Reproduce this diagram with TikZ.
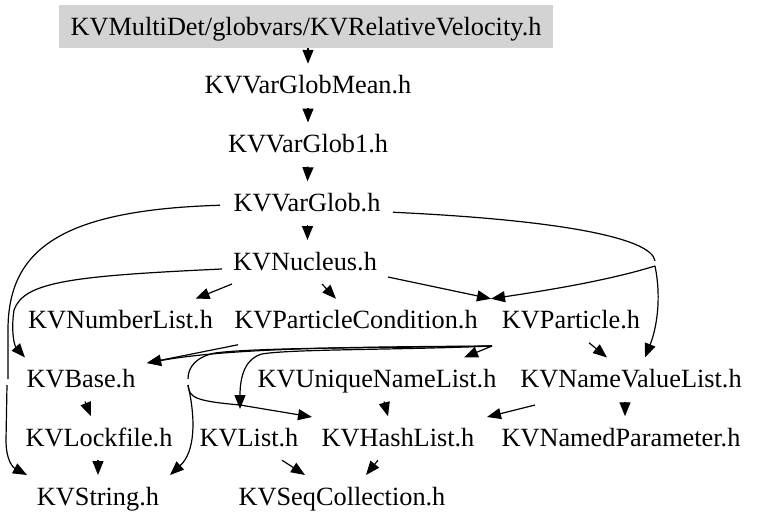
\documentclass[tikz,border=0pt]{standalone}
\usepackage{fontspec}
\setmainfont{Liberation Serif}
\usetikzlibrary{arrows.meta}
\definecolor{rootgray}{HTML}{D3D3D3}
\newcommand\fsz{\fontsize{26.3}{30}\selectfont}
\tikzset{
  hdr/.style={font=\fsz, inner sep=0pt, anchor=base, text height=30pt, text depth=14pt},
  rootbox/.style={hdr, fill=rootgray, inner xsep=12pt, text depth=13pt},
  ln/.style={line width=1.2pt},
  arr/.style={ln, -{Triangle[length=14pt,width=11pt]}}
}
\begin{document}
\begin{tikzpicture}[x=1pt,y=-1pt]
\useasboundingbox (0,0) rectangle (761,528);
% nodes
\node[rootbox] (relvel) at (306,35) {KVMultiDet/globvars/KVRelativeVelocity.h};
\node[hdr] (vgm) at (308,93.75) {KVVarGlobMean.h};
\node[hdr] (vg1) at (308,152.5) {KVVarGlob1.h};
\node[hdr] (vg) at (307,211.25) {KVVarGlob.h};
\node[hdr] (nuc) at (305,270) {KVNucleus.h};
\node[hdr] (numl) at (120.5,328.75) {KVNumberList.h};
\node[hdr] (pcond) at (356,328.75) {KVParticleCondition.h};
\node[hdr] (part) at (571,328.75) {KVParticle.h};
\node[hdr] (base) at (81,387.5) {KVBase.h};
\node[hdr] (unl) at (377,387.5) {KVUniqueNameList.h};
\node[hdr] (nvl) at (631,387.5) {KVNameValueList.h};
\node[hdr] (lock) at (99,446.25) {KVLockfile.h};
\node[hdr] (list) at (249,446.25) {KVList.h};
\node[hdr] (hash) at (398,446.25) {KVHashList.h};
\node[hdr] (npar) at (621,446.25) {KVNamedParameter.h};
\node[hdr] (str) at (98,505) {KVString.h};
\node[hdr] (seq) at (342,505) {KVSeqCollection.h};
% break points of merged edges
\coordinate (b1) at (8,379);
\coordinate (b2) at (7,385);
\coordinate (b3) at (655,261);
\coordinate (b4) at (655,266);
\coordinate (b5) at (188,379);
\coordinate (b6) at (188,385);
% vertical chain
\draw[arr] ([shift={(2,13)}]relvel.base) -- ([shift={(0,-30)}]vgm.base);
\draw[arr] ([shift={(0,14)}]vgm.base) -- ([shift={(0,-30)}]vg1.base);
\draw[arr] ([shift={(0,14)}]vg1.base) -- ([shift={(0.5,-30)}]vg.base);
\draw[arr] ([shift={(0.5,14)}]vg.base) -- ([shift={(2.5,-30)}]nuc.base);
% KVVarGlob -> KVString (outer)
\draw[ln] ([shift={(-87,-6)}]vg.base) .. controls (60,210) and (8,250) .. (8,330) -- (b1);
\draw[arr] (b2) -- (6,440) .. controls (6,462) and (14,468) .. ([shift={(-71,-30)}]str.base);
% KVNucleus -> KVBase
\draw[arr] ([shift={(-83,-1)}]nuc.base) .. controls (70,276) and (24,282) .. (14,310)
  .. controls (11,330) and (14,345) .. ([shift={(-56,-30)}]base.base);
% KVVarGlob -> KVParticle / KVNameValueList
\draw[ln] ([shift={(86,1)}]vg.base) .. controls (560,220) and (652,238) .. (b3);
\draw[arr] (b4) .. controls (610,280) and (550,290) .. ([shift={(-80,-30)}]part.base);
\draw[arr] (b4) .. controls (662,300) and (656,330) .. ([shift={(14,-30)}]nvl.base);
% KVNucleus children
\draw[arr] ([shift={(83,7)}]nuc.base) -- ([shift={(-80,-30)}]part.base);
\draw[arr] ([shift={(-73,14)}]nuc.base) -- ([shift={(75,-30)}]numl.base);
\draw[arr] ([shift={(17,14)}]nuc.base) -- ([shift={(-20,-30)}]pcond.base);
% KVParticleCondition -> KVBase
\draw[arr] ([shift={(-118,16)}]pcond.base) -- ([shift={(66,-24.5)}]base.base);
% KVParticle edges
\draw[arr] ([shift={(-79,17.25)}]part.base) .. controls (350,347) and (230,348) .. ([shift={(66,-24.5)}]base.base);
\draw[arr] ([shift={(-79,17.25)}]part.base) -- ([shift={(87,-30)}]unl.base);
\draw[arr] ([shift={(-79,17.25)}]part.base) .. controls (400,350) and (290,349) .. (262,354)
  .. controls (246,358) and (240,375) .. ([shift={(-9,-37.25)}]list.base);
\draw[ln] ([shift={(-79,17.25)}]part.base) .. controls (400,348) and (260,347) .. (215,353)
  .. controls (196,357) and (188,367) .. (b5);
\draw[arr] (b6) .. controls (189,398) and (196,401) .. (240,405) -- ([shift={(-86,-29.25)}]hash.base);
\draw[arr] (b6) .. controls (196,420) and (195,452) .. ([shift={(72,-30)}]str.base);
\draw[arr] ([shift={(18,14)}]part.base) -- ([shift={(-24,-30)}]nvl.base);
% lower edges
\draw[arr] ([shift={(-96,17.5)}]nvl.base) -- ([shift={(89,-29.25)}]hash.base);
\draw[arr] ([shift={(-6,14)}]nvl.base) -- ([shift={(4,-30)}]npar.base);
\draw[arr] ([shift={(7,14)}]unl.base) -- ([shift={(-10,-30)}]hash.base);
\draw[arr] ([shift={(4,14)}]base.base) -- ([shift={(-8,-30)}]lock.base);
\draw[arr] ([shift={(-1,14)}]lock.base) -- ([shift={(0,-30)}]str.base);
\draw[arr] ([shift={(33,14)}]list.base) -- ([shift={(-37,-30)}]seq.base);
\draw[arr] ([shift={(-20,14)}]hash.base) -- ([shift={(24,-30)}]seq.base);
\end{tikzpicture}
\end{document}
